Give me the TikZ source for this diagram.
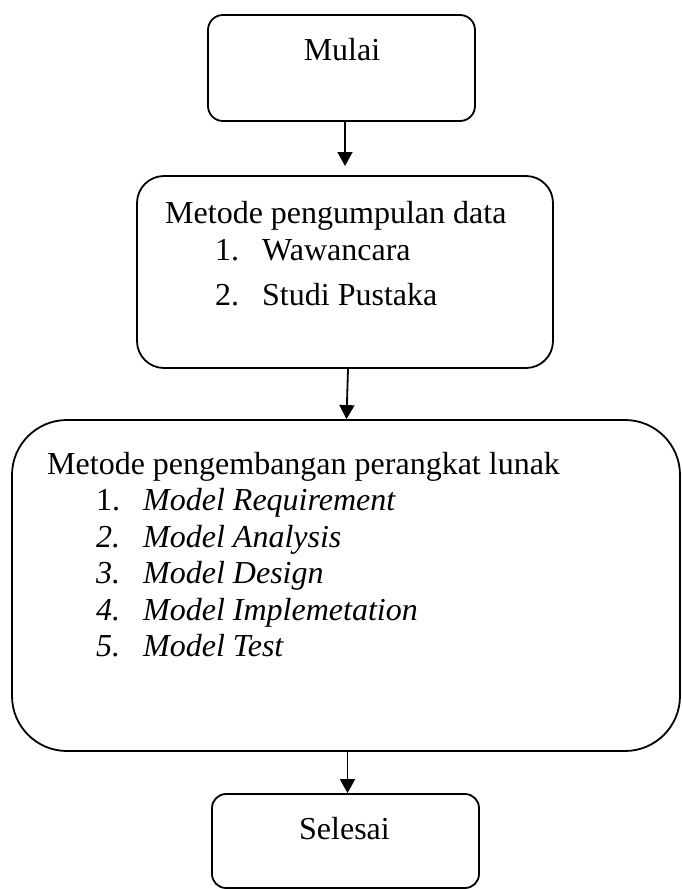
\documentclass[tikz,border=0pt]{standalone}
\usepackage{fontspec}
\setmainfont{Liberation Serif}
\usetikzlibrary{arrows.meta}
\tikzset{
  box/.style={draw, line width=1.8pt, inner sep=0pt},
  txt/.style={inner sep=0pt, anchor=base west, font=\fontsize{32}{38}\selectfont},
  ctxt/.style={inner sep=0pt, anchor=base, font=\fontsize{32}{38}\selectfont},
  arr/.style={line width=1.8pt, -{Triangle[width=15pt,length=14pt]}}
}
\begin{document}
\begin{tikzpicture}[x=1pt,y=1pt]
\useasboundingbox (0,0) rectangle (681,-889);
% boxes
\node[box, rounded corners=15pt, minimum width=267pt, minimum height=106pt] (start) at (341.5,-68) {};
\node[box, rounded corners=27pt, minimum width=416pt, minimum height=192pt] (collect) at (345,-272) {};
\node[box, rounded corners=55pt, minimum width=668pt, minimum height=331pt] (dev) at (346,-585.5) {};
\node[box, rounded corners=14pt, minimum width=267pt, minimum height=94pt] (end) at (345.5,-841) {};
% texts
\node[ctxt] (tmulai) at (342,-60) {Mulai};
\node[ctxt] (tselesai) at (344.5,-839) {Selesai};
\node[txt] (t2) at (165,-223) {Metode pengumpulan data};
\node[txt] (n21) at (215,-260) {1.};
\node[txt] (i21) at (262,-260) {Wawancara};
\node[txt] (n22) at (215,-305) {2.};
\node[txt] (i22) at (262,-305) {Studi Pustaka};
\node[txt] (t3) at (47,-474) {Metode pengembangan perangkat lunak};
\node[txt] (n31) at (96,-510) {1.};
\node[txt] (i31) at (143,-510) {\itshape Model Requirement};
\node[txt] (n32) at (96,-547) {\itshape 2.};
\node[txt] (i32) at (143,-547) {\itshape Model Analysis};
\node[txt] (n33) at (96,-583) {\itshape 3.};
\node[txt] (i33) at (143,-583) {\itshape Model Design};
\node[txt] (n34) at (96,-620) {\itshape 4.};
\node[txt] (i34) at (143,-620) {\itshape Model Implemetation};
\node[txt] (n35) at (96,-656) {\itshape 5.};
\node[txt] (i35) at (143,-656) {\itshape Model Test};
% connectors
\coordinate (a1) at (345,-166);
\draw[arr] ([xshift=3.5pt]start.south) -- (a1);
\draw[arr] ([xshift=3pt]collect.south) -- ([xshift=0.5pt]dev.north);
\draw[arr] ([xshift=1.5pt]dev.south) -- ([xshift=2pt]end.north);
\end{tikzpicture}
\end{document}
